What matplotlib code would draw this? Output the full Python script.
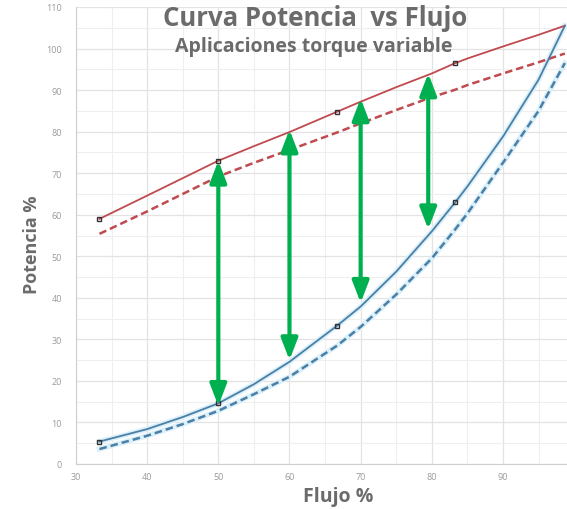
import matplotlib
matplotlib.use("Agg")
import matplotlib.pyplot as plt

plt.rcParams["font.family"] = ["Open Sans", "DejaVu Sans"]

GREY = "#6b6b6b"; RED = "#c04a4f"; BLUE = "#4a7fa6"; GREEN = "#00b050"; HALO = "#dcf0fa"

# flujo (%) y potencia (%)
flujo = [33.3, 40, 45, 50, 55, 60, 66.7, 70, 75, 80, 83.3, 85, 90, 95, 98.7]
pot_red = [59.0, 64.6, 68.8, 73.0, 76.5, 79.9, 84.8, 87.2, 90.7, 94.0, 96.5, 97.6, 100.5, 103.3, 105.5]
pot_red_dash = [55.4, 60.8, 65.0, 69.2, 72.5, 75.6, 79.8, 82.0, 85.2, 88.3, 90.1, 91.2, 94.0, 96.7, 98.8]
pot_blue = [5.4, 8.4, 11.3, 14.6, 19.2, 24.6, 33.3, 37.9, 46.3, 56.0, 63.0, 66.8, 78.8, 92.5, 105.5]
pot_blue_dash = [3.6, 6.8, 9.6, 12.8, 16.8, 21.0, 28.5, 33.0, 40.8, 49.5, 56.5, 60.3, 72.5, 85.0, 96.5]
puntos_x = [33.3, 50, 66.7, 83.3]
puntos_red = [59.0, 73.0, 84.8, 96.5]
puntos_blue = [5.4, 14.6, 33.3, 63.0]

# flechas de ahorro
flecha_x = [50, 60, 70, 79.5]
flecha_bajo = [14.0, 25.0, 38.8, 56.5]
flecha_alto = [73.0, 80.5, 88.0, 94.0]

W, H = 567, 510
fig = plt.figure(figsize=(W / 100, H / 100), dpi=100)
ax = fig.add_axes([76 / W, 45 / H, (W - 76) / W, (465 - 8) / H])
ax.set_xlim(30, 99); ax.set_ylim(0, 110)

ax.set_xticks(range(30, 100, 10)); ax.set_yticks(range(0, 111, 10))
ax.set_xticks(range(35, 100, 10), minor=True); ax.set_yticks(range(5, 110, 10), minor=True)
ax.grid(True, which="major", color="#e3e3e3", lw=0.9)
ax.grid(True, which="minor", color="#efefef", lw=0.8)
ax.set_axisbelow(True)
ax.tick_params(which="both", length=0, labelsize=6.5, labelcolor="#9a9a9a")
ax.tick_params(axis="y", pad=10); ax.tick_params(axis="x", pad=6)
for s in ["top", "right"]:
    ax.spines[s].set_visible(False)
for s in ["left", "bottom"]:
    ax.spines[s].set_color("#cfcfcf")

# halos claros bajo las curvas azules
ax.plot(flujo, pot_blue, color=HALO, lw=3.8, zorder=2)
ax.plot(flujo, pot_blue_dash, color=HALO, lw=3.8, zorder=2)

ax.plot(flujo, pot_red, color=RED, lw=1.3, zorder=3)
ax.plot(flujo, pot_red_dash, color=RED, lw=1.8, ls=(0, (3, 1.6)), zorder=3)
ax.plot(flujo, pot_blue, color=BLUE, lw=1.3, zorder=3)
ax.plot(flujo, pot_blue_dash, color=BLUE, lw=1.8, ls=(0, (3, 1.6)), zorder=3)

ax.plot(puntos_x, puntos_red, ls="none", marker="s", ms=3.3, mfc="none", mec="#333", mew=1, zorder=4)
ax.plot(puntos_x, puntos_blue, ls="none", marker="s", ms=3.3, mfc="none", mec="#333", mew=1, zorder=4)

for x, y0, y1 in zip(flecha_x, flecha_bajo, flecha_alto):
    ax.annotate("", xy=(x, y1), xytext=(x, y0),
                arrowprops=dict(arrowstyle="<|-|>,head_length=1.3,head_width=0.5",
                                color=GREEN, lw=3, mutation_scale=10, shrinkA=0, shrinkB=0),
                zorder=5)

fig.text(315 / W, 1 - 18 / H, "Curva Potencia  vs Flujo", fontsize=18.5, fontweight="bold",
         color=GREY, ha="center", va="center")
fig.text(314 / W, 1 - 47 / H, "Aplicaciones torque variable", fontsize=14, fontweight="bold",
         color=GREY, ha="center", va="center")
fig.text(32 / W, 1 - 245 / H, "Potencia %", fontsize=13, fontweight="bold", color=GREY,
         rotation=90, ha="center", va="center")
fig.text(338 / W, 1 - 497 / H, "Flujo %", fontsize=14, fontweight="bold", color=GREY,
         ha="center", va="center")

fig.savefig("out.png", dpi=100, facecolor="white")
